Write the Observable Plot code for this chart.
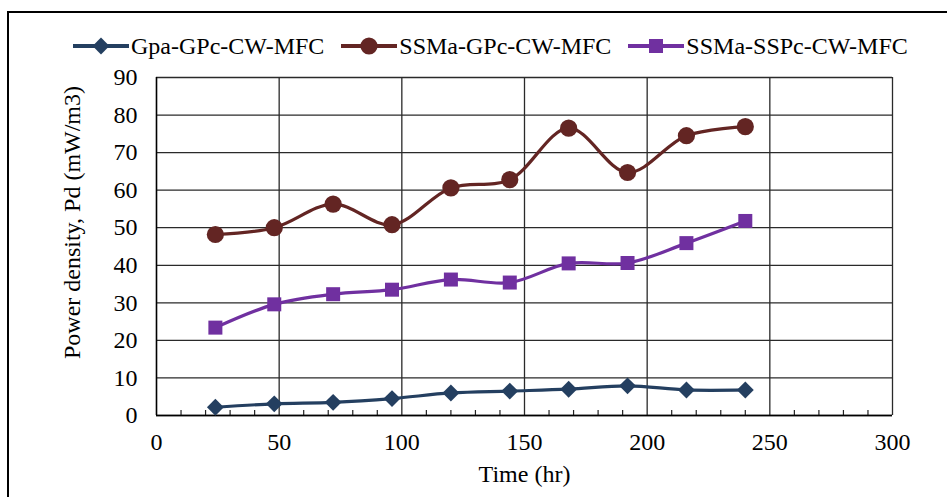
<!DOCTYPE html>
<html><head><meta charset="utf-8">
<script src="https://cdn.jsdelivr.net/npm/d3@7"></script>
<script src="https://cdn.jsdelivr.net/npm/@observablehq/plot@0.6"></script>
<style>
body{margin:0;background:#fff;}
#wrap{position:relative;width:947px;height:497px;overflow:hidden;font-family:"Liberation Serif","Times New Roman",serif;background:#fff;}
#frame{position:absolute;left:7px;top:11px;width:2000px;height:2000px;border-left:2.5px solid #000;border-top:2.5px solid #000;}
#chart{position:absolute;left:0;top:0;}
#legend{position:absolute;left:73px;top:32px;display:flex;align-items:center;font-size:24px;line-height:28px;color:#000;white-space:nowrap;}
.item{display:flex;align-items:center;margin-right:17px;}
.item svg{margin-right:2px;}
</style></head>
<body>
<div id="wrap"><div id="frame"></div><div id="chart"></div><div id="legend"></div></div>
<script>
const hours = [24, 48, 72, 96, 120, 144, 168, 192, 216, 240];
const gpaGpc = [2.2, 3.1, 3.5, 4.5, 6.0, 6.5, 7.0, 7.9, 6.8, 6.8];
const ssmaGpc = [48.2, 50.0, 56.3, 50.8, 60.6, 62.8, 76.5, 64.7, 74.5, 76.9];
const ssmaSspc = [23.4, 29.6, 32.3, 33.5, 36.2, 35.4, 40.5, 40.6, 45.9, 51.8];
const seriesNames = ["Gpa-GPc-CW-MFC", "SSMa-GPc-CW-MFC", "SSMa-SSPc-CW-MFC"];
const yTicks = [0, 10, 20, 30, 40, 50, 60, 70, 80, 90];
const xTicks = [0, 50, 100, 150, 200, 250, 300];
const xMinorTicks = [10,20,30,40,60,70,80,90,110,120,130,140,160,170,180,190,210,220,230,240,260,270,280,290];
const xLabel = "Time (hr)";
const yLabel = "Power density, Pd (mW/m3)";

const colors = ["#243F60", "#632523", "#7030A0"];
const symbols = ["diamond2", "circle", "square"];
const radii = [7.6, 8.6, 7.9];

const seriesValues = [gpaGpc, ssmaGpc, ssmaSspc];
const rows = [];
seriesNames.forEach((name, i) => hours.forEach((h, j) => rows.push({series: name, hour: h, value: seriesValues[i][j]})));

const font = '"Liberation Serif","Times New Roman",serif';
const gridStyle = {stroke: "#2a2a2a", strokeOpacity: 1, strokeWidth: 1.3};

const chart = Plot.plot({
  width: 947, height: 497,
  marginLeft: 156, marginRight: 55, marginTop: 77, marginBottom: 82,
  x: {domain: [0, 300]},
  y: {domain: [0, 90]},
  color: {domain: seriesNames, range: colors},
  style: {fontFamily: font, fontSize: "24px", background: "transparent", color: "#000"},
  marks: [
    Plot.gridY(yTicks, gridStyle),
    Plot.gridX(xTicks, gridStyle),
    Plot.tickX(xMinorTicks, {x: d => d, insetTop: 333, stroke: "#222", strokeWidth: 1.2}),
    Plot.ruleY([0], {stroke: "#000", strokeWidth: 1.6}),
    Plot.ruleX([0], {stroke: "#000", strokeWidth: 1.4}),
    Plot.axisY(yTicks, {tickSize: 0, tickPadding: 19, label: null, fontSize: 24}),
    Plot.axisX(xTicks, {tickSize: 0, tickPadding: 17, label: null, fontSize: 24}),
    Plot.line(rows, {x: "hour", y: "value", z: "series", stroke: "series", curve: "catmull-rom", strokeWidth: 3.2}),
    ...seriesNames.map((name, i) => Plot.dot(rows.filter(d => d.series === name), {
      x: "hour", y: "value", symbol: () => symbols[i], fill: colors[i], stroke: "none", r: radii[i]
    })),
    Plot.text([yLabel], {frameAnchor: "left", textAnchor: "middle", lineAnchor: "middle", rotate: -90, dx: -84, dy: -24, fontSize: 24, fill: "#000"}),
    Plot.text([xLabel], {frameAnchor: "bottom", dy: 66, fontSize: 24, fill: "#000"})
  ]
});
document.getElementById("chart").append(chart);

const legend = d3.select("#legend");
seriesNames.forEach((name, i) => {
  const item = legend.append("div").attr("class", "item");
  const svg = item.append("svg").attr("width", 56).attr("height", 20);
  svg.append("line").attr("x1", 0).attr("x2", 56).attr("y1", 10).attr("y2", 10)
    .attr("stroke", colors[i]).attr("stroke-width", 4);
  const sym = {diamond2: d3.symbolDiamond2, circle: d3.symbolCircle, square: d3.symbolSquare}[symbols[i]];
  svg.append("path").attr("transform", "translate(28,10)")
    .attr("d", d3.symbol(sym, radii[i] * radii[i] * Math.PI)())
    .attr("fill", colors[i]);
  item.append("span").text(name);
});
</script>
</body></html>
